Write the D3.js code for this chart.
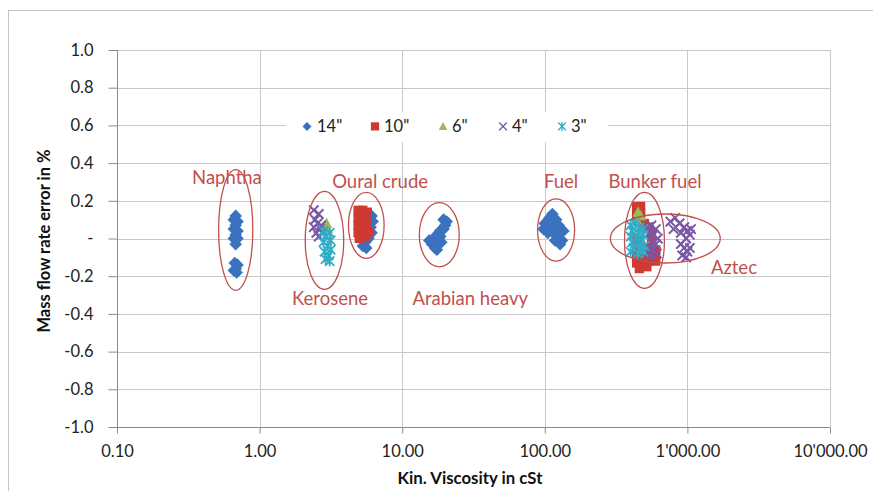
<!DOCTYPE html>
<html><head><meta charset="utf-8">
<script src="https://cdn.jsdelivr.net/npm/d3@7"></script>
<style>body{margin:0;background:#fff}svg{display:block;font-family:Lato,"Open Sans",sans-serif}</style>
</head><body><svg id="c" width="873" height="491"></svg>
<script>
const xTicks=[0.1,1,10,100,1000,10000];
const xTickLabels=["0.10","1.00","10.00","100.00","1'000.00","10'000.00"];
const yTicks=[1,0.8,0.6,0.4,0.2,0,-0.2,-0.4,-0.6,-0.8,-1];
const yTickLabels=["1.0","0.8","0.6","0.4","0.2","-","-0.2","-0.4","-0.6","-0.8","-1.0"];
const seriesNames=['14"','10"','6"','4"','3"'];
// [viscosity cSt, error %]
const s14=[[0.68,0.12],[0.66,0.10],[0.70,0.09],[0.68,0.07],[0.66,0.05],[0.70,0.04],[0.68,0.02],[0.66,0.00],[0.70,0.00],[0.68,-0.03],
 [0.67,-0.13],[0.70,-0.14],[0.68,-0.16],[0.66,-0.17],[0.69,-0.18],
 [6.1,0.12],[6.2,0.09],[6.0,0.06],[6.1,0.03],[5.8,0.0],[5.5,-0.02],[5.3,-0.04],[5.6,-0.05],
 [15.5,-0.01],[16.2,-0.03],[17.0,-0.05],[17.5,-0.06],[16.8,0.0],[17.5,0.02],[18.5,0.01],[18.4,0.04],[19.5,0.05],[20.0,0.07],[20.5,0.09],[19.5,0.10],[18.8,-0.02],
 [113,0.13],[108,0.11],[120,0.10],[100,0.08],[112,0.08],[125,0.07],[98,0.05],[110,0.05],[130,0.05],[105,0.03],[118,0.02],[135,0.04],[125,0.0],[132,-0.01],[128,-0.03],[118,-0.01]];
const s10=[[4.9,0.15],[5.3,0.15],[5.7,0.14],[4.9,0.11],[5.3,0.11],[5.6,0.09],[4.9,0.07],[5.3,0.06],[5.7,0.05],[4.9,0.03],[5.3,0.02],[5.8,0.03],[5.0,0.0],[5.5,0.01],
 [440,0.17],[470,0.17],[440,0.14],[470,0.14],[440,0.11],[470,0.11],[500,0.08],[540,0.06],[560,0.03],[560,0.0],[560,-0.03],[560,-0.06],[560,-0.09],[540,-0.12],[600,-0.12],[440,-0.13],[480,-0.14],[520,-0.15],[460,-0.16],[600,-0.09],[600,-0.06],[440,0.0],[460,-0.05],[440,-0.09],[500,-0.1]];
const s6=[[2.95,0.08],[3.0,0.05],[450,0.14],[470,0.12],[440,0.10]];
const s4=[[2.4,0.15],[2.6,0.13],[2.45,0.10],[2.55,0.08],[2.4,0.06],[2.65,0.05],[2.5,0.03],[2.6,0.01],[2.7,0.07],[2.75,0.03],
 [530,0.06],[560,0.07],[600,0.05],[540,0.03],[580,0.02],[620,0.0],[550,-0.01],[600,-0.03],[530,-0.05],[570,-0.06],[610,-0.08],[550,-0.09],
 [760,0.09],[820,0.11],[880,0.08],[950,0.06],[1000,0.04],[1040,0.02],[800,0.05],[900,0.03],[980,0.0],[900,-0.03],[950,-0.05],[1000,-0.07],[1040,-0.05],[920,-0.09],[980,-0.10],[1060,0.05]];
const s3=[[2.8,0.04],[3.1,0.03],[2.9,0.01],[3.15,-0.01],[2.8,-0.02],[3.0,-0.04],[3.15,-0.06],[2.85,-0.07],[3.05,-0.09],[2.9,-0.11],[3.1,-0.12],
 [400,0.07],[430,0.08],[460,0.06],[490,0.05],[410,0.04],[450,0.03],[490,0.02],[400,0.01],[440,0.0],[480,-0.01],[410,-0.02],[460,-0.03],[500,-0.04],[420,-0.05],[470,-0.06],[400,-0.07],[450,-0.08],[490,-0.07]];
// annotations: label, label viscosity, label error; ellipse centre viscosity, error, half-width in decades, half-height in %
const annoLabels=["Naphtha","Kerosene","Oural crude","Arabian heavy","Fuel","Bunker fuel","Aztec"];
const annoLabelPos=[[0.59,0.29],[3.12,-0.355],[7.0,0.27],[30,-0.355],[130,0.27],[593,0.27],[2120,-0.19]];
const annoEllipse=[[0.68,0.045,0.12,0.32],[2.85,-0.01,0.135,0.26],[5.6,0.07,0.125,0.175],[18.2,0.02,0.14,0.17],[120,0.045,0.13,0.165],[500,-0.01,0.14,0.255],[700,0.0,0.385,0.13]];

const svg=d3.select("#c");
const L=117,R=830,T=50,B=427;
const x=d3.scaleLog().domain([0.1,10000]).range([L,R]);
const y=d3.scaleLinear().domain([-1,1]).range([B,T]);
const colors=["#3A72C0","#CE3A32","#9BBB59","#7B57A8","#2FADC8"];

svg.append("rect").attr("x",8.5).attr("y",10.5).attr("width",900).attr("height",500).attr("fill","none").attr("stroke","#c4c4c4");

// gridlines
svg.append("g").selectAll("line").data(yTicks.filter(v=>v>-1)).join("line")
 .attr("x1",L).attr("x2",R).attr("y1",d=>Math.round(y(d))+0.5).attr("y2",d=>Math.round(y(d))+0.5).attr("stroke","#c8c8c8");
svg.append("g").selectAll("line").data(xTicks.slice(1)).join("line")
 .attr("x1",d=>Math.round(x(d))+0.5).attr("x2",d=>Math.round(x(d))+0.5).attr("y1",T).attr("y2",B).attr("stroke","#c8c8c8");

// axes
const yAxis=d3.axisLeft(y).tickValues(yTicks).tickFormat((d,i)=>yTickLabels[i]).tickSize(9).tickPadding(15);
const gy=svg.append("g").attr("transform",`translate(${L+0.5},0)`).call(yAxis);
gy.selectAll("path,line").attr("stroke","#8a8a8a");
gy.selectAll("text").attr("font-size",16.5).attr("fill","#222").style("font-family","Lato");
gy.select(".domain").attr("d",`M0,${T}V${B}`);
const xAxis=d3.axisBottom(x).tickValues(xTicks).tickFormat((d,i)=>xTickLabels[i]).tickSize(6).tickPadding(12);
const gx=svg.append("g").attr("transform",`translate(0,${B+0.5})`).call(xAxis);
gx.selectAll("path,line").attr("stroke","#8a8a8a");
gx.select(".domain").attr("d",`M${L},0H${R}`);
gx.selectAll("text").attr("font-size",16.5).attr("fill","#222").style("font-family","Lato");

svg.append("text").attr("x",470).attr("y",484).attr("text-anchor","middle").attr("font-weight","bold").attr("font-size",16.8).attr("fill","#111").text("Kin. Viscosity in cSt");
svg.append("text").attr("transform","translate(50,241) rotate(-90)").attr("text-anchor","middle").attr("font-weight","bold").attr("font-size",16.5).attr("fill","#111").text("Mass flow rate error in %");

// marker shapes
function marker(g,i,s){
 const c=colors[i];
 if(i===0) g.append("path").attr("d",`M0,${-s}L${s},0L0,${s}L${-s},0Z`).attr("fill",c);
 else if(i===1) g.append("rect").attr("x",-s*0.82).attr("y",-s*0.82).attr("width",s*1.64).attr("height",s*1.64).attr("fill",c);
 else if(i===2) g.append("path").attr("d",`M0,${-s}L${s*0.95},${s*0.8}L${-s*0.95},${s*0.8}Z`).attr("fill",c);
 else if(i===3) g.append("path").attr("d",`M${-s*0.85},${-s*0.85}L${s*0.85},${s*0.85}M${-s*0.85},${s*0.85}L${s*0.85},${-s*0.85}`).attr("stroke",c).attr("stroke-width",s>5?2:1.3).attr("fill","none");
 else g.append("path").attr("d",`M${-s*0.85},${-s*0.85}L${s*0.85},${s*0.85}M${-s*0.85},${s*0.85}L${s*0.85},${-s*0.85}M0,${-s}V${s}`).attr("stroke",c).attr("stroke-width",s>5?1.8:1.3).attr("fill","none");
}
const markerSize=[6.3,5.6,5.8,5.5,5.5];
const allSeries=[s14,s10,s6,s4,s3];
allSeries.forEach((data,i)=>{
 const g=svg.append("g");
 g.selectAll("g").data(data).join("g").attr("transform",d=>`translate(${x(d[0])},${y(d[1])})`).each(function(){marker(d3.select(this),i,markerSize[i]);});
});

// legend
const lg=svg.append("g");
lg.append("rect").attr("x",286).attr("y",112).attr("width",322).attr("height",30).attr("fill","#fff");
const legX=[307,375,443,503,562];
seriesNames.forEach((n,i)=>{
 const g=lg.append("g").attr("transform",`translate(${legX[i]},${y(0.6)+1})`);
 marker(g,i,i===1?5:4.5);
 g.append("text").attr("x",i===0?10:9).attr("y",6).attr("font-size",16.5).attr("fill","#222").text(n);
});

// annotations
const ac="#C0504D";
annoEllipse.forEach(e=>{
 const cx=x(e[0]),cy=y(e[1]);
 const rx=(x(e[0]*Math.pow(10,e[2]))-x(e[0]));
 const ry=(y(0)-y(e[3]));
 svg.append("ellipse").attr("cx",cx).attr("cy",cy).attr("rx",rx).attr("ry",ry).attr("fill","none").attr("stroke",ac).attr("stroke-width",1.3);
});
annoLabels.forEach((t,i)=>{
 svg.append("text").attr("x",x(annoLabelPos[i][0])).attr("y",y(annoLabelPos[i][1])).attr("text-anchor","middle").attr("font-size",18.5).attr("fill",ac).text(t);
});
</script></body></html>
